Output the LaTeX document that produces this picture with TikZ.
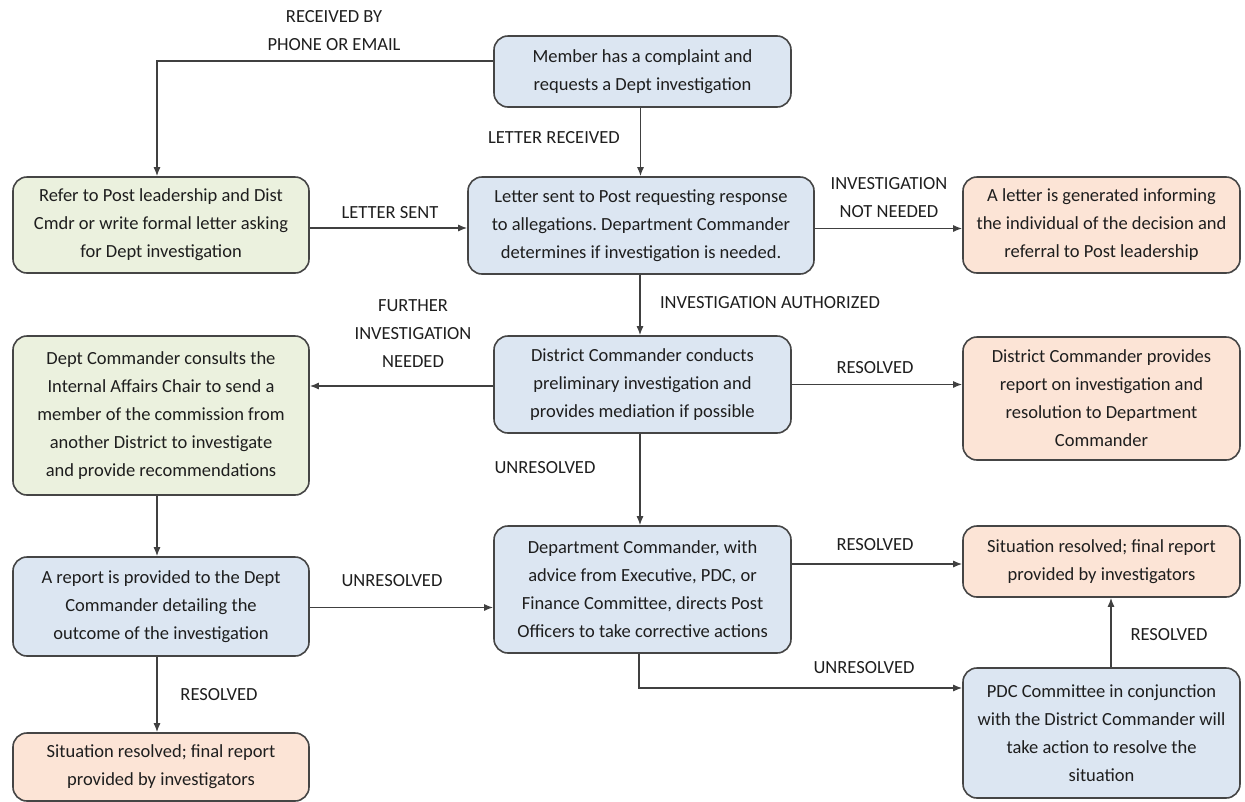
\documentclass[tikz,border=0pt]{standalone}
\usepackage{fontspec}
\setmainfont{Carlito}
\usetikzlibrary{arrows.meta}
\definecolor{bluef}{HTML}{DCE6F2}
\definecolor{greenf}{HTML}{EBF1DE}
\definecolor{orangef}{HTML}{FCE4D6}
\definecolor{edgegray}{HTML}{454545}
\definecolor{linegray}{HTML}{404040}
\definecolor{textgray}{HTML}{1E1E1E}
\frenchspacing
\begin{document}
\begin{tikzpicture}[x=1pt,y=-1pt,
  box/.style={draw=edgegray, line width=1.6pt, rounded corners=14pt, align=center, inner sep=0pt,
    font=\fontsize{18.5}{28}\selectfont, text=textgray},
  bluebox/.style={box, fill=bluef},
  greenbox/.style={box, fill=greenf},
  orangebox/.style={box, fill=orangef},
  lbl/.style={align=center, inner sep=0pt, font=\fontsize{18.5}{28}\selectfont, text=textgray},
  arr/.style={draw=linegray, line width=1.3pt, -{Latex[length=9pt,width=7pt]}}]
\useasboundingbox (0,0) rectangle (1245,801);

% nodes
\node[bluebox, minimum width=297pt, minimum height=71pt] (member) at (642.5,71.5)
  {Member has a complaint and\\requests a Dept investigation};
\node[greenbox, minimum width=296pt, minimum height=96pt] (refer) at (161,225)
  {Refer to Post leadership and Dist\\Cmdr or write formal letter asking\\for Dept investigation};
\node[bluebox, minimum width=346pt, minimum height=97pt] (letter) at (641,225.5)
  {Letter sent to Post requesting response\\to allegations. Department Commander\\determines if investigation is needed.};
\node[orangebox, minimum width=277pt, minimum height=96pt] (gen) at (1101.5,225)
  {A letter is generated informing\\the individual of the decision and\\referral to Post leadership};
\node[greenbox, minimum width=296pt, minimum height=159pt] (consults) at (161,415.5)
  {Dept Commander consults the\\Internal Affairs Chair to send a\\member of the commission from\\another District to investigate\\and provide recommendations};
\node[bluebox, minimum width=297pt, minimum height=97pt] (conducts) at (642.5,384.5)
  {District Commander conducts\\preliminary investigation and\\provides mediation if possible};
\node[orangebox, minimum width=277pt, minimum height=123pt] (provides) at (1101.5,398.5)
  {District Commander provides\\report on investigation and\\resolution to Department\\Commander};
\node[bluebox, minimum width=296pt, minimum height=99pt] (report) at (161,606.5)
  {A report is provided to the Dept\\Commander detailing the\\outcome of the investigation};
\node[bluebox, minimum width=297pt, minimum height=127pt] (advice) at (642.5,589.5)
  {Department Commander, with\\advice from Executive, PDC, or\\Finance Committee, directs Post\\Officers to take corrective actions};
\node[orangebox, minimum width=277pt, minimum height=71pt] (sitR) at (1101.5,561.5)
  {Situation resolved; final report\\provided by investigators};
\node[bluebox, minimum width=277pt, minimum height=130pt] (pdc) at (1101.5,733)
  {PDC Committee in conjunction\\with the District Commander will\\take action to resolve the\\situation};
\node[orangebox, minimum width=296pt, minimum height=68pt] (sitL) at (161,767)
  {Situation resolved; final report\\provided by investigators};

% connectors
\draw[arr] ([yshift=10.5pt]member.west) -| ([xshift=-4pt]refer.north);
\draw[arr] ([xshift=-2pt]member.south) -- ([xshift=-2pt]member.south |- letter.north);
\draw[arr] ([yshift=-3pt]refer.east) -- ([yshift=-3pt]refer.east -| letter.west);
\draw[arr] ([yshift=-3pt]letter.east) -- ([yshift=-3pt]letter.east -| gen.west);
\draw[arr] ([xshift=-1pt]letter.south) -- ([xshift=-1pt]letter.south |- conducts.north);
\draw[arr] (conducts.east) -- (conducts.east -| provides.west);
\draw[arr] ([yshift=-1.5pt]conducts.west) -- ([yshift=-1.5pt]conducts.west -| consults.east);
\draw[arr] ([xshift=-2.5pt]conducts.south) -- ([xshift=-2.5pt]conducts.south |- advice.north);
\draw[arr] ([xshift=-4pt]consults.south) -- ([xshift=-4pt]consults.south |- report.north);
\draw[arr] ([yshift=-1pt]report.east) -- ([yshift=-1pt]report.east -| advice.west);
\draw[arr] ([xshift=-4pt]report.south) -- ([xshift=-4pt]report.south |- sitL.north);
\draw[arr] ([yshift=25.5pt]advice.east) -- ([yshift=25.5pt]advice.east -| sitR.west);
\draw[arr] ([xshift=-3.5pt]advice.south) |- ([yshift=45pt]pdc.west);
\draw[arr] ([xshift=9.5pt]pdc.north) -- ([xshift=9.5pt]pdc.north |- sitR.south);

% labels
\node[lbl] (l1) at (334,31) {RECEIVED BY\\PHONE OR EMAIL};
\node[lbl] (l2) at (554,138) {LETTER RECEIVED};
\node[lbl] (l3) at (390,213) {LETTER SENT};
\node[lbl] (l4) at (889,198) {INVESTIGATION\\NOT NEEDED};
\node[lbl] (l5) at (770,303) {INVESTIGATION AUTHORIZED};
\node[lbl] (l6) at (875,368) {RESOLVED};
\node[lbl] (l7) at (413,334) {FURTHER\\INVESTIGATION\\NEEDED};
\node[lbl] (l8) at (545,468) {UNRESOLVED};
\node[lbl] (l9) at (392,581) {UNRESOLVED};
\node[lbl] (l10) at (219,695) {RESOLVED};
\node[lbl] (l11) at (875,545) {RESOLVED};
\node[lbl] (l12) at (864,668) {UNRESOLVED};
\node[lbl] (l13) at (1169,635) {RESOLVED};
\end{tikzpicture}
\end{document}
